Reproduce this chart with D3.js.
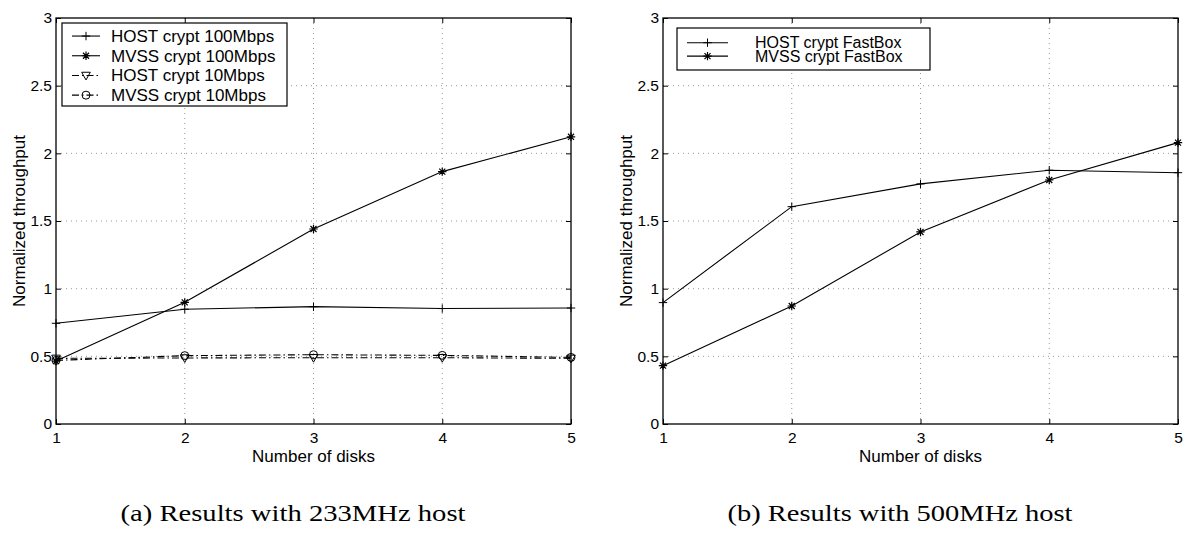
<!DOCTYPE html>
<html><head><meta charset="utf-8">
<script src="https://cdn.jsdelivr.net/npm/d3@7"></script>
<style>
body{margin:0;background:#fff;}
svg{display:block;font-family:"Liberation Sans",Arial,sans-serif;}
</style></head><body>
<svg id="c" width="1184" height="536"></svg>
<script>
// ---- data ----
const disks = [1, 2, 3, 4, 5];
const xTickLabels = ["1", "2", "3", "4", "5"];
const yTicks = [0, 0.5, 1, 1.5, 2, 2.5, 3];
const yTickLabels = ["0", "0.5", "1", "1.5", "2", "2.5", "3"];

const hostCrypt100 = [0.744, 0.848, 0.867, 0.853, 0.857];
const mvssCrypt100 = [0.465, 0.899, 1.441, 1.865, 2.122];
const hostCrypt10  = [0.485, 0.488, 0.49, 0.49, 0.485];
const mvssCrypt10  = [0.47, 0.505, 0.512, 0.507, 0.492];

const hostFastBox = [0.897, 1.606, 1.774, 1.875, 1.857];
const mvssFastBox = [0.431, 0.872, 1.419, 1.803, 2.079];

const xLabel = "Number of disks";
const yLabel = "Normalized throughput";
const captionA = "(a) Results with 233MHz host";
const captionB = "(b) Results with 500MHz host";

const chartA = {
  series: [
    {name: "HOST crypt 100Mbps", values: hostCrypt100, marker: "plus", dash: null},
    {name: "MVSS crypt 100Mbps", values: mvssCrypt100, marker: "star", dash: null},
    {name: "HOST crypt 10Mbps", values: hostCrypt10, marker: "tri", dash: "7,3,1.5,3"},
    {name: "MVSS crypt 10Mbps", values: mvssCrypt10, marker: "circle", dash: "7,3,1.5,3"}
  ],
  caption: captionA
};
const chartB = {
  series: [
    {name: "HOST crypt FastBox", values: hostFastBox, marker: "plus", dash: null},
    {name: "MVSS crypt FastBox", values: mvssFastBox, marker: "star", dash: null}
  ],
  caption: captionB
};

// ---- layout ----
const W = 515, H = 406;
const svg = d3.select("#c");

function drawMarker(g, type, cx, cy) {
  const s = 4.2;
  if (type === "plus") {
    g.append("path").attr("d", `M${cx - s},${cy}H${cx + s}M${cx},${cy - s}V${cy + s}`)
      .attr("stroke", "#000").attr("stroke-width", 1).attr("fill", "none");
  } else if (type === "star") {
    const d = s * 0.72;
    g.append("path").attr("d",
      `M${cx - s},${cy}H${cx + s}M${cx},${cy - s}V${cy + s}M${cx - d},${cy - d}L${cx + d},${cy + d}M${cx - d},${cy + d}L${cx + d},${cy - d}`)
      .attr("stroke", "#000").attr("stroke-width", 1.2).attr("fill", "none");
  } else if (type === "tri") {
    g.append("path").attr("d", `M${cx - 4.3},${cy - 3.2}L${cx + 4.3},${cy - 3.2}L${cx},${cy + 4.5}Z`)
      .attr("stroke", "#000").attr("stroke-width", 1).attr("fill", "none");
  } else if (type === "circle") {
    g.append("circle").attr("cx", cx).attr("cy", cy).attr("r", 4)
      .attr("stroke", "#000").attr("stroke-width", 1).attr("fill", "none");
  }
}

function drawChart(ox, oy, cfg, legendCfg) {
  const g = svg.append("g").attr("transform", `translate(${ox},${oy})`);
  const x = d3.scaleLinear().domain([1, 5]).range([0, W]);
  const y = d3.scaleLinear().domain([0, 3]).range([H, 0]);

  // grid
  const grid = g.append("g").attr("stroke", "#999").attr("stroke-width", 1)
    .attr("stroke-dasharray", "1,4");
  disks.slice(1, -1).forEach(v => {
    grid.append("line").attr("x1", x(v)).attr("x2", x(v)).attr("y1", 0).attr("y2", H);
  });
  yTicks.slice(1, -1).forEach(v => {
    grid.append("line").attr("x1", 0).attr("x2", W).attr("y1", y(v)).attr("y2", y(v));
  });

  // axes
  const fmtX = (d, i) => xTickLabels[i];
  const fmtY = (d, i) => yTickLabels[i];
  const ax = g.append("g").attr("transform", `translate(0,${H})`)
    .call(d3.axisBottom(x).tickValues(disks).tickFormat(fmtX).tickSize(-5).tickPadding(8));
  const at = g.append("g")
    .call(d3.axisTop(x).tickValues(disks).tickFormat("").tickSize(-5));
  const al = g.append("g")
    .call(d3.axisLeft(y).tickValues(yTicks).tickFormat(fmtY).tickSize(-5).tickPadding(4));
  const ar = g.append("g").attr("transform", `translate(${W},0)`)
    .call(d3.axisRight(y).tickValues(yTicks).tickFormat("").tickSize(-5));
  [ax, at, al, ar].forEach(a => {
    a.select(".domain").remove();
    a.selectAll("text").attr("font-size", "15.5px").attr("fill", "#000")
      .attr("font-family", "'Liberation Sans',Arial,sans-serif");
    a.selectAll("line").attr("stroke", "#000");
  });
  g.append("rect").attr("x", 0).attr("y", 0).attr("width", W).attr("height", H)
    .attr("fill", "none").attr("stroke", "#000").attr("stroke-width", 1.3);

  // labels
  g.append("text").attr("x", x(3)).attr("y", H + 38).attr("text-anchor", "middle")
    .attr("font-size", "17px").text(xLabel);
  g.append("text").attr("transform", `translate(${-31},${H / 2}) rotate(-90)`)
    .attr("text-anchor", "middle").attr("font-size", "17px").text(yLabel);

  // series
  const line = d3.line().x((d, i) => x(disks[i])).y(d => y(d));
  cfg.series.forEach(s => {
    g.append("path").datum(s.values).attr("d", line).attr("fill", "none")
      .attr("stroke", "#000").attr("stroke-width", 1.1)
      .attr("stroke-dasharray", s.dash);
    const mg = g.append("g");
    s.values.forEach((v, i) => drawMarker(mg, s.marker, x(disks[i]), y(v)));
  });

  // legend
  const lg = svg.append("g");
  lg.append("rect").attr("x", legendCfg.x).attr("y", legendCfg.y)
    .attr("width", legendCfg.w).attr("height", legendCfg.h)
    .attr("fill", "#fff").attr("stroke", "#000").attr("stroke-width", 1.2);
  cfg.series.forEach((s, i) => {
    const by = legendCfg.y + legendCfg.first + i * legendCfg.step;
    const ly = by - legendCfg.fs * 0.35;
    lg.append("line").attr("x1", legendCfg.lx1).attr("x2", legendCfg.lx2)
      .attr("y1", ly).attr("y2", ly).attr("stroke", "#000").attr("stroke-width", 1.1)
      .attr("stroke-dasharray", s.dash);
    drawMarker(lg, s.marker, (legendCfg.lx1 + legendCfg.lx2) / 2, ly);
    lg.append("text").attr("x", legendCfg.tx).attr("y", by)
      .attr("font-size", legendCfg.fs + "px").text(s.name);
  });

  // caption
  svg.append("text").attr("x", ox + legendCfg.capX).attr("y", 521)
    .attr("text-anchor", "middle").attr("font-family", "'Liberation Serif','Times New Roman',serif")
    .attr("font-size", "23px").attr("textLength", 345).attr("lengthAdjust", "spacingAndGlyphs")
    .text(cfg.caption);
}

drawChart(56, 18, chartA, {x: 62, y: 23, w: 225, h: 83, first: 19, step: 19.7, fs: 17,
  lx1: 72, lx2: 100, tx: 111, capX: 237});
drawChart(663, 18, chartB, {x: 677, y: 28, w: 253, h: 42, first: 20.3, step: 13.4, fs: 16,
  lx1: 687, lx2: 728, tx: 755, capX: 237});
</script>
</body></html>
